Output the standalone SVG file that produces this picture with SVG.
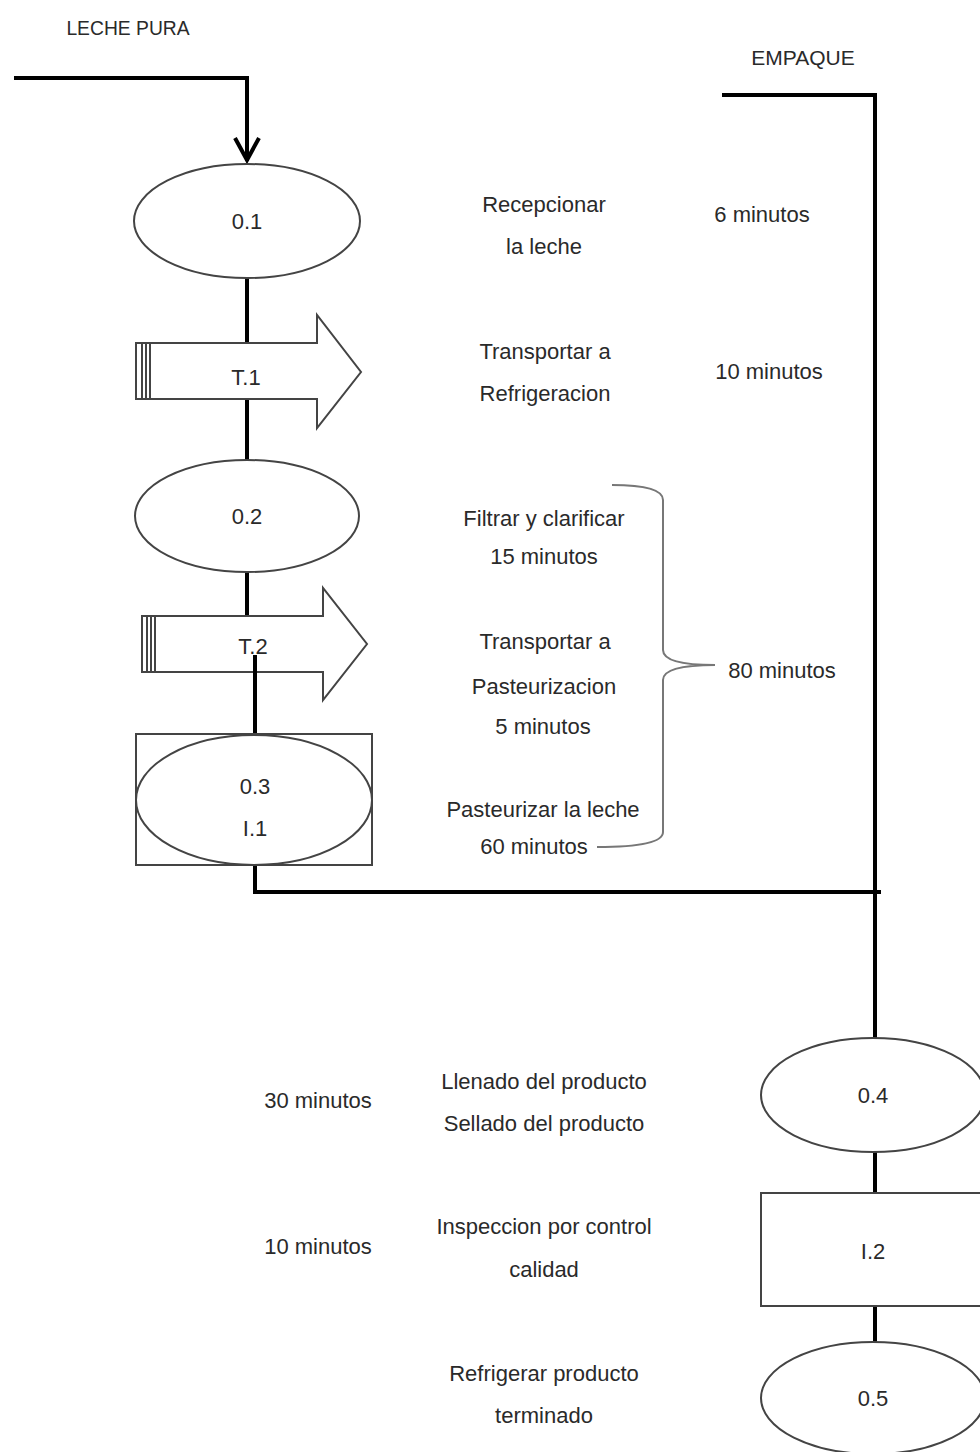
<svg xmlns="http://www.w3.org/2000/svg" width="980" height="1452" viewBox="0 0 980 1452">
<style>
text{font-family:"Liberation Sans",Arial,sans-serif;font-size:22px;fill:#2a2a2a;text-anchor:middle}
.shape{fill:#fff;stroke:#444;stroke-width:2}
.conn{fill:none;stroke:#000;stroke-width:4}
.brace{fill:none;stroke:#777;stroke-width:2}
.bar{stroke:#444;stroke-width:2}
</style>
<rect width="980" height="1452" fill="#fff"/>
<g id="connectors">
<polyline class="conn" points="14,78 247,78 247,161"/>
<polyline class="conn" points="235,138 247,160 259,138"/>
<line class="conn" x1="247" y1="278" x2="247" y2="343"/>
<line class="conn" x1="247" y1="399" x2="247" y2="460"/>
<line class="conn" x1="247" y1="572" x2="247" y2="616"/>
<polyline class="conn" points="255,865 255,892 881,892"/>
<polyline class="conn" points="722,95 875,95 875,1038"/>
<line class="conn" x1="875" y1="1152" x2="875" y2="1193"/>
<line class="conn" x1="875" y1="1306" x2="875" y2="1342"/>
</g>
<g id="n_O1"><ellipse class="shape" cx="247" cy="221" rx="113" ry="57"/><text x="247" y="229">0.1</text></g>
<g id="n_T1">
<polygon class="shape" points="150,343 317,343 317,315 361,372 317,428 317,399 150,399"/>
<rect class="shape" x="136" y="343" width="14" height="56"/>
<line class="bar" x1="142" y1="343" x2="142" y2="399"/>
<line class="bar" x1="146" y1="343" x2="146" y2="399"/>
<text x="246" y="385">T.1</text>
</g>
<g id="n_O2"><ellipse class="shape" cx="247" cy="516" rx="112" ry="56"/><text x="247" y="524">0.2</text></g>
<g id="n_T2">
<polygon class="shape" points="155,616 323,616 323,588 367,644 323,700 323,672 155,672"/>
<rect class="shape" x="142" y="616" width="13" height="56"/>
<line class="bar" x1="147" y1="616" x2="147" y2="672"/>
<line class="bar" x1="151" y1="616" x2="151" y2="672"/>
<text x="253" y="654">T.2</text>
</g>
<g id="connectors-over">
<line class="conn" x1="255" y1="655" x2="255" y2="734"/>
</g>
<g id="n_O3">
<rect class="shape" x="136" y="734" width="236" height="131"/>
<ellipse class="shape" cx="254" cy="800" rx="118" ry="65"/>
<text x="255" y="794">0.3</text>
<text x="255" y="836">I.1</text>
</g>
<g id="n_O4"><ellipse class="shape" cx="873" cy="1095" rx="112" ry="57"/><text x="873" y="1103">0.4</text></g>
<g id="n_I2"><rect class="shape" x="761" y="1193" width="230" height="113"/><text x="873" y="1259">I.2</text></g>
<g id="n_O5"><ellipse class="shape" cx="873" cy="1398" rx="112" ry="56"/><text x="873" y="1406">0.5</text></g>
<g id="brace">
<path class="brace" d="M612,485 Q663,485 663,500 L663,650 Q663,665 715,665 M663,680 Q663,665 715,665 M663,680 L663,832 Q663,847 597,847"/>
</g>
<g id="labels">
<text x="128" y="35" style="font-size:19.3px">LECHE PURA</text>
<text x="803" y="65" style="font-size:21px">EMPAQUE</text>
<text x="544" y="212">Recepcionar</text>
<text x="544" y="254">la leche</text>
<text x="762" y="222">6 minutos</text>
<text x="545" y="359">Transportar a</text>
<text x="545" y="401">Refrigeracion</text>
<text x="769" y="379">10 minutos</text>
<text x="544" y="526">Filtrar y clarificar</text>
<text x="544" y="564">15 minutos</text>
<text x="545" y="649">Transportar a</text>
<text x="544" y="694">Pasteurizacion</text>
<text x="543" y="734">5 minutos</text>
<text x="782" y="678">80 minutos</text>
<text x="543" y="817">Pasteurizar la leche</text>
<text x="534" y="854">60 minutos</text>
<text x="318" y="1108">30 minutos</text>
<text x="544" y="1089">Llenado del producto</text>
<text x="544" y="1131">Sellado del producto</text>
<text x="318" y="1254">10 minutos</text>
<text x="544" y="1234">Inspeccion por control</text>
<text x="544" y="1277">calidad</text>
<text x="544" y="1381">Refrigerar producto</text>
<text x="544" y="1423">terminado</text>
</g>
</svg>
